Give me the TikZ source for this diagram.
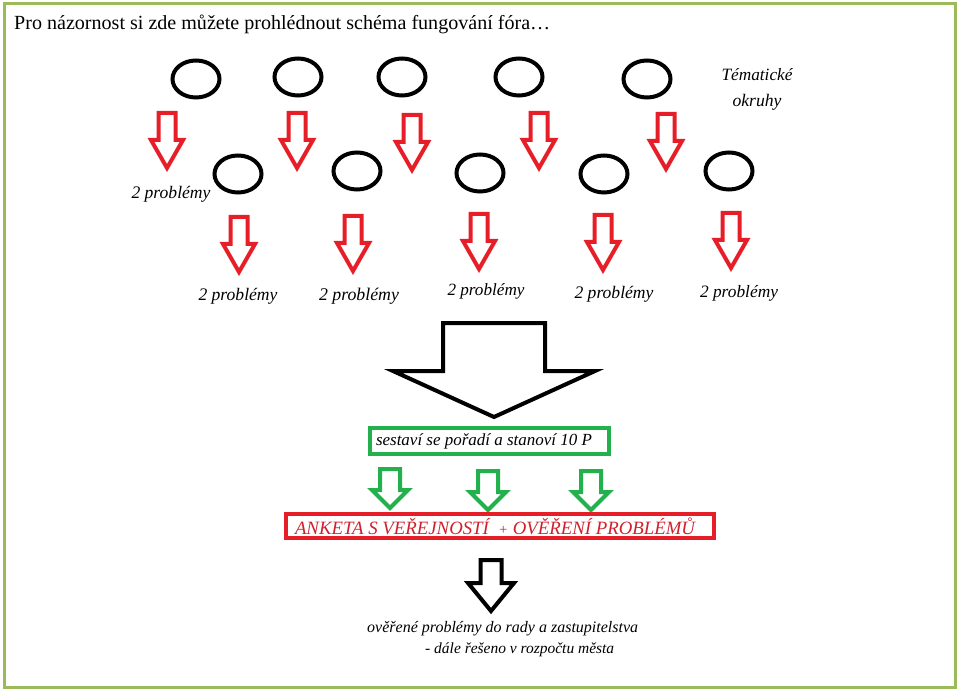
\documentclass[tikz,border=0pt]{standalone}
\usepackage{fontspec}
\setmainfont{Liberation Serif}[ItalicFont={Liberation Serif Italic}, BoldFont={Liberation Serif Bold}]
\usetikzlibrary{shapes.geometric}
\definecolor{framegreen}{HTML}{9BBB59}
\definecolor{pred}{HTML}{E61E28}
\definecolor{tred}{HTML}{D0202C}
\definecolor{pgreen}{HTML}{22B14C}
\newcommand{\fitw}[2]{\resizebox{#1}{!}{#2}}
\tikzset{
  topic/.style={draw=black, line width=4pt, ellipse, minimum width=47pt, minimum height=37pt, inner sep=0pt},
  lbl/.style={font=\fontsize{17.5}{19}\selectfont\itshape, inner sep=0pt},
  redarrow/.style={draw=pred, line width=4pt},
  greenarrow/.style={draw=pgreen, line width=4pt},
  blackarrow/.style={draw=black, line width=4pt},
  pics/rarrow/.style={code={\draw[redarrow] (-8.5,0) -- (8.5,0) -- (8.5,27) -- (16,27) -- (0,55) -- (-16,27) -- (-8.5,27) -- cycle;}},
  pics/garrow/.style={code={\draw[greenarrow] (-10,0) -- (10,0) -- (10,21) -- (18,21) -- (0,39) -- (-18,21) -- (-10,21) -- cycle;}},
  pics/karrow/.style={code={\draw[blackarrow] (-10.5,0) -- (10.5,0) -- (10.5,23) -- (23,23) -- (0,51) -- (-23,23) -- (-10.5,23) -- cycle;}},
}
\begin{document}
\begin{tikzpicture}[x=1pt,y=-1pt]
\useasboundingbox (0,0) rectangle (960,692);
\draw[framegreen, line width=3pt] (4,4) rectangle (955,687);
\node[anchor=base west, inner sep=0pt, font=\fontsize{22}{24}\selectfont] (title) at (14,30) {\fitw{536pt}{Pro názornost si zde můžete prohlédnout schéma fungování fóra…}};
% top row topics
\node[topic] (t1) at (196,79) {};
\node[topic] (t2) at (298,77) {};
\node[topic] (t3) at (402,77) {};
\node[topic] (t4) at (519,77) {};
\node[topic] (t5) at (647,79) {};
\node[lbl] (tem1) at (757,75) {\fitw{71pt}{Tématické}};
\node[lbl] (tem2) at (757,102) {\fitw{49pt}{okruhy}};
% top row arrows
\pic (ra1) at (167,113) {rarrow};
\pic (ra2) at (297,113) {rarrow};
\pic (ra3) at (412,115) {rarrow};
\pic (ra4) at (539,113) {rarrow};
\pic (ra5) at (666,114) {rarrow};
% second row topics
\node[topic] (s1) at (238,174) {};
\node[topic] (s2) at (357,171) {};
\node[topic] (s3) at (480,173) {};
\node[topic] (s4) at (604,174) {};
\node[topic] (s5) at (729,171) {};
\node[lbl] (p0) at (171,194) {\fitw{79pt}{2 problémy}};
% second row arrows
\pic (rb1) at (239,217) {rarrow};
\pic (rb2) at (353,216) {rarrow};
\pic (rb3) at (479,214) {rarrow};
\pic (rb4) at (603,215) {rarrow};
\pic (rb5) at (731,213) {rarrow};
\node[lbl] (p1) at (238,296) {\fitw{79pt}{2 problémy}};
\node[lbl] (p2) at (359,296) {\fitw{80pt}{2 problémy}};
\node[lbl] (p3) at (486,291) {\fitw{77pt}{2 problémy}};
\node[lbl] (p4) at (614,294) {\fitw{79pt}{2 problémy}};
\node[lbl] (p5) at (739,293) {\fitw{78pt}{2 problémy}};
% big arrow
\draw[blackarrow] (443,323) -- (545,323) -- (545,371) -- (595,371) -- (494,417) -- (393,371) -- (443,371) -- cycle;
% green box
\node[draw=pgreen, line width=4pt, minimum width=239pt, minimum height=26pt, inner sep=0pt,
      font=\fontsize{16}{18}\selectfont\itshape] (gbox) at (489.5,441) {\hspace*{-11pt}\fitw{216pt}{sestaví se pořadí a stanoví 10 P}};
\pic (ga1) at (390,469) {garrow};
\pic (ga2) at (488,471) {garrow};
\pic (ga3) at (591,471) {garrow};
% red box
\node[draw=pred, line width=4pt, minimum width=428pt, minimum height=24pt, inner sep=0pt,
      text=tred, font=\fontsize{17}{19}\selectfont\itshape] (rbox) at (500,526) {\hspace*{-10pt}\fitw{400pt}{ANKETA S VEŘEJNOSTÍ \ {\fontsize{13}{14}\selectfont +} OVĚŘENÍ PROBLÉMŮ}};
\pic (ka) at (491,560) {karrow};
\node[anchor=west, inner sep=0pt, font=\fontsize{16}{18}\selectfont\itshape] (res1) at (367,629) {\fitw{271pt}{ověřené problémy do rady a zastupitelstva}};
\node[anchor=west, inner sep=0pt, font=\fontsize{16}{18}\selectfont\itshape] (res2) at (425,650) {\fitw{189pt}{- dále řešeno v rozpočtu města}};
\end{tikzpicture}
\end{document}
